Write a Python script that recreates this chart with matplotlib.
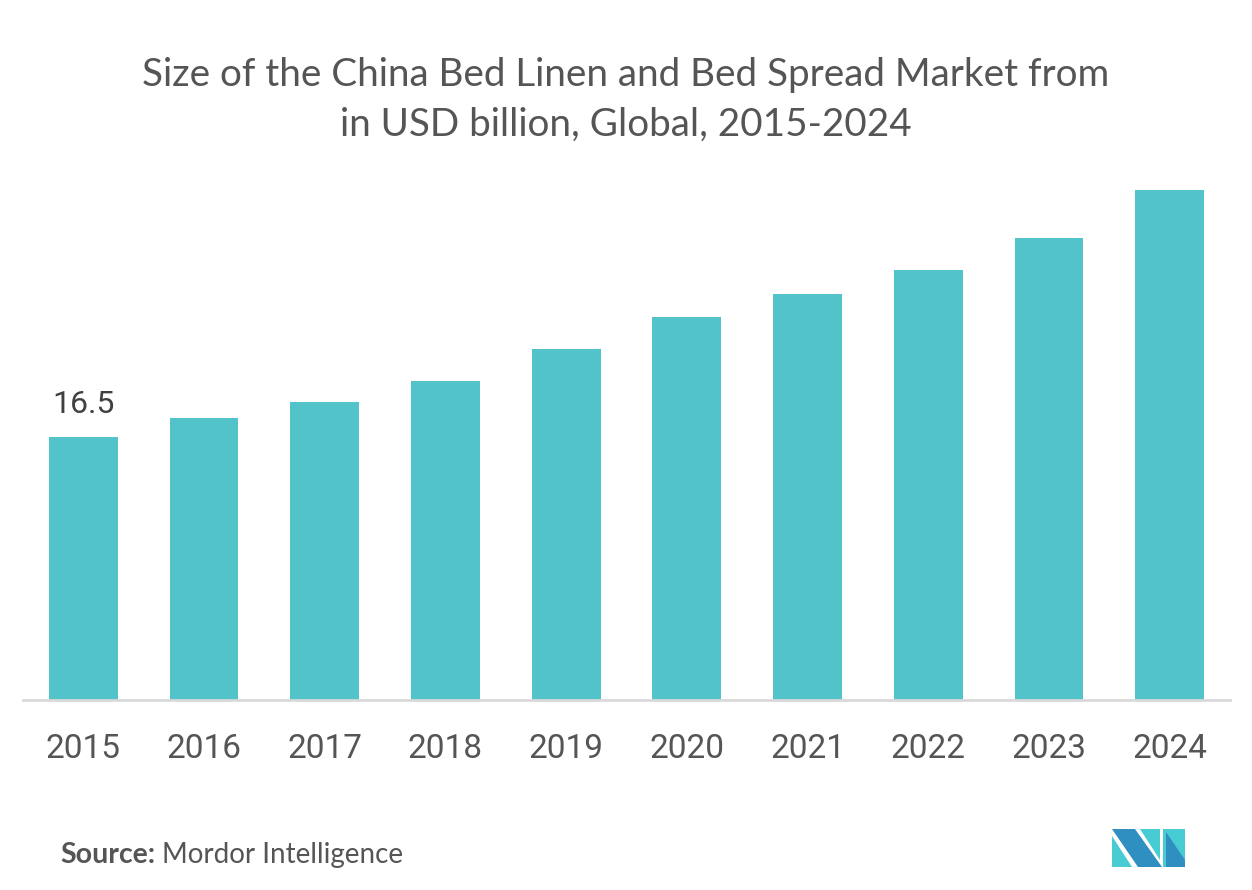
### China bed linen market size bar chart
import matplotlib
matplotlib.use('Agg')
import matplotlib.pyplot as plt
from matplotlib.patches import Polygon

years = ['2015', '2016', '2017', '2018', '2019', '2020', '2021', '2022', '2023', '2024']
market_size = [16.5, 17.7, 18.7, 20.0, 22.0, 24.0, 25.5, 27.0, 29.0, 32.0]
shown_labels = {0: '16.5'}

bar_color = '#52C3C9'

fig = plt.figure(figsize=(12.52, 8.9), dpi=100)
W, H = 1252.0, 890.0
# axes placed in pixel terms: left 23, right 1230, baseline at 700
ax = fig.add_axes([23 / W, (H - 700) / H, 1207 / W, 526 / H])
x = range(len(years))
ax.bar(x, market_size, width=0.57, color=bar_color, zorder=2)
ax.set_xlim(-0.5, 9.5)
ax.set_ylim(0, 33)

for i, txt in shown_labels.items():
    ax.text(i, market_size[i] + 1.1, txt, ha='center', va='bottom',
            fontsize=23, family='Roboto', color='#404040')

for s in ['top', 'right', 'left']:
    ax.spines[s].set_visible(False)
ax.spines['bottom'].set_color('#d9d9d9')
ax.spines['bottom'].set_linewidth(2)
ax.set_yticks([])
ax.set_xticks(list(x))
ax.set_xticklabels(years, fontsize=24, family='Roboto', color='#555555')
ax.tick_params(axis='x', length=0, pad=24)

fig.text(0.5, 1 - 75 / H, 'Size of the China Bed Linen and Bed Spread Market from',
         ha='center', va='center', fontsize=27.8, family='Lato', color='#555555')
fig.text(0.5, 1 - 125 / H, 'in USD billion, Global, 2015-2024',
         ha='center', va='center', fontsize=27.8, family='Lato', color='#555555')

fig.text(60 / W, 1 - 855 / H, 'Source:', ha='left', va='center', fontsize=20.5,
         family='Lato', weight='bold', color='#555555')
fig.text(162 / W, 1 - 855 / H, 'Mordor Intelligence', ha='left', va='center',
         fontsize=20, family='Lato', color='#555555')

# logo
def px(pts):
    return [(a / W, 1 - b / H) for a, b in pts]

logo = [
    ([(1112, 829), (1135, 829), (1162, 867), (1138, 867)], '#2E8FC0'),
    ([(1112, 836), (1112, 867), (1132, 867)], '#46CCD2'),
    ([(1140, 829), (1160, 829), (1160, 860)], '#46CCD2'),
    ([(1163, 829), (1185, 829), (1185, 867), (1163, 867)], '#46CCD2'),
    ([(1166, 832), (1185, 860), (1185, 867), (1166, 867)], '#2E8FC0'),
]
for pts, c in logo:
    fig.patches.append(Polygon(px(pts), closed=True, transform=fig.transFigure,
                               facecolor=c, edgecolor='none'))

plt.savefig('out.png', dpi=100)
